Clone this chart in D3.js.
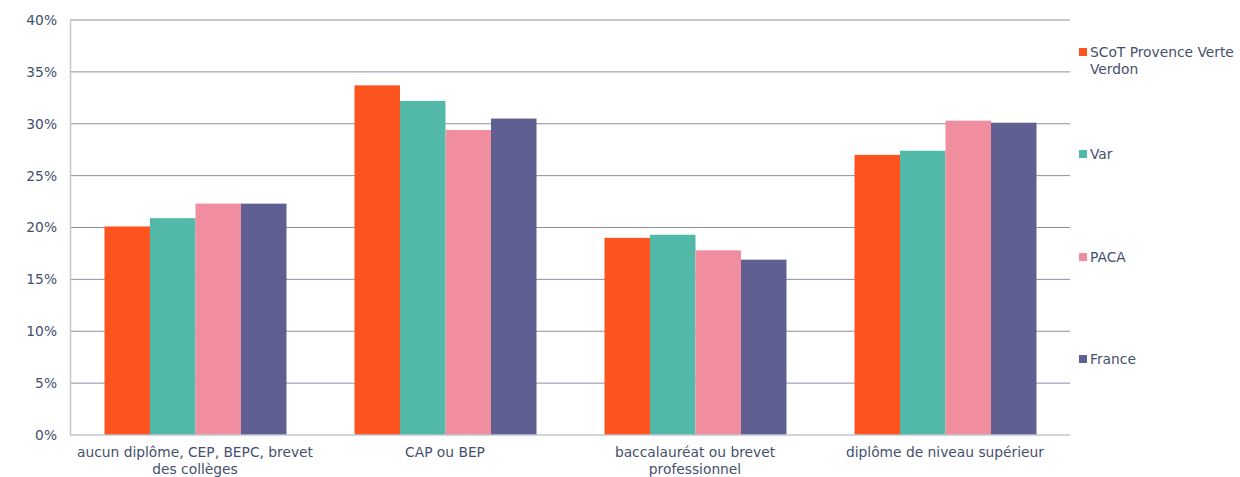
<!DOCTYPE html>
<html>
<head>
<meta charset="utf-8">
<script src="https://cdn.jsdelivr.net/npm/d3@7"></script>
<style>
  html, body { margin: 0; padding: 0; background: #fff; }
  svg { display: block; font-family: "DejaVu Sans", Verdana, sans-serif; }
</style>
</head>
<body>
<svg id="chart" width="1240" height="477"></svg>
<script>
// catégories (niveau de diplôme)
const categories = [
  ['aucun diplôme, CEP, BEPC, brevet', 'des collèges'],
  ['CAP ou BEP'],
  ['baccalauréat ou brevet', 'professionnel'],
  ['diplôme de niveau supérieur']
];
const seriesNames = ['SCoT Provence Verte Verdon', 'Var', 'PACA', 'France'];
const seriesColors = ['#fc531f', '#52b9a8', '#f08e9f', '#5f5f92'];
// valeurs en %
const scotValues = [20.1, 33.7, 19.0, 27.0];
const varValues = [20.9, 32.2, 19.3, 27.4];
const pacaValues = [22.3, 29.4, 17.8, 30.3];
const franceValues = [22.3, 30.5, 16.9, 30.1];
const yTicks = [0, 5, 10, 15, 20, 25, 30, 35, 40];

const allValues = [scotValues, varValues, pacaValues, franceValues];

const svg = d3.select('#chart');
const plotLeft = 70, plotRight = 1070, plotTop = 20, plotBottom = 435;
const textColor = '#44506e';
const fontSize = 13.8;

const y = d3.scaleLinear().domain([0, 40]).range([plotBottom, plotTop]);
const x0 = d3.scaleBand().domain(d3.range(categories.length)).range([plotLeft, plotRight]);
const bw = x0.bandwidth();
const x1 = d3.scaleBand().domain(d3.range(seriesNames.length)).range([bw * 0.138, bw * 0.866]);

// grille
svg.append('g')
  .selectAll('line')
  .data(yTicks.filter(t => t > 0))
  .join('line')
  .attr('x1', plotLeft).attr('x2', plotRight)
  .attr('y1', d => y(d)).attr('y2', d => y(d))
  .attr('stroke', '#8c8fa6').attr('stroke-width', 1);

// axe Y
const yAxis = svg.append('g')
  .attr('transform', `translate(${plotLeft},0)`)
  .call(d3.axisLeft(y).tickValues(yTicks).tickFormat(d => d + '%').tickSize(0).tickPadding(13));
yAxis.select('.domain').attr('stroke', '#c3c6cf').attr('stroke-width', 1.5);
yAxis.selectAll('text').attr('fill', textColor).attr('font-size', fontSize)
  .attr('font-family', '"DejaVu Sans", Verdana, sans-serif');

// barres
const groups = svg.append('g')
  .selectAll('g')
  .data(categories.map((c, i) => i))
  .join('g')
  .attr('transform', i => `translate(${x0(i)},0)`);

groups.selectAll('rect')
  .data(i => allValues.map((vals, s) => ({ s, v: vals[i] })))
  .join('rect')
  .attr('x', d => x1(d.s))
  .attr('width', x1.bandwidth())
  .attr('y', d => y(d.v))
  .attr('height', d => y(0) - y(d.v))
  .attr('fill', d => seriesColors[d.s]);

// axe X
svg.append('line')
  .attr('x1', plotLeft).attr('x2', plotRight)
  .attr('y1', plotBottom).attr('y2', plotBottom)
  .attr('stroke', '#c3c6cf').attr('stroke-width', 1.5);

const xLabels = svg.append('g')
  .selectAll('text')
  .data(categories)
  .join('text')
  .attr('x', (d, i) => x0(i) + bw / 2)
  .attr('y', 457)
  .attr('text-anchor', 'middle')
  .attr('fill', textColor)
  .attr('font-size', fontSize);
xLabels.selectAll('tspan')
  .data(d => d)
  .join('tspan')
  .attr('x', function () { return this.parentNode.getAttribute('x'); })
  .attr('dy', (d, i) => i === 0 ? 0 : 17)
  .text(d => d);

// légende
const legendY = [52, 154, 257, 359];
const legendLines = [['SCoT Provence Verte', 'Verdon'], ['Var'], ['PACA'], ['France']];
const legend = svg.append('g')
  .selectAll('g')
  .data(seriesNames)
  .join('g')
  .attr('transform', (d, i) => `translate(1079,${legendY[i]})`);
legend.append('rect')
  .attr('x', 0).attr('y', -4).attr('width', 8).attr('height', 8)
  .attr('fill', (d, i) => seriesColors[i]);
const lt = legend.append('text')
  .attr('x', 11).attr('y', 5)
  .attr('fill', textColor)
  .attr('font-size', fontSize);
lt.selectAll('tspan')
  .data((d, i) => legendLines[i])
  .join('tspan')
  .attr('x', 11)
  .attr('dy', (d, i) => i === 0 ? 0 : 17)
  .text(d => d);
</script>
</body>
</html>
